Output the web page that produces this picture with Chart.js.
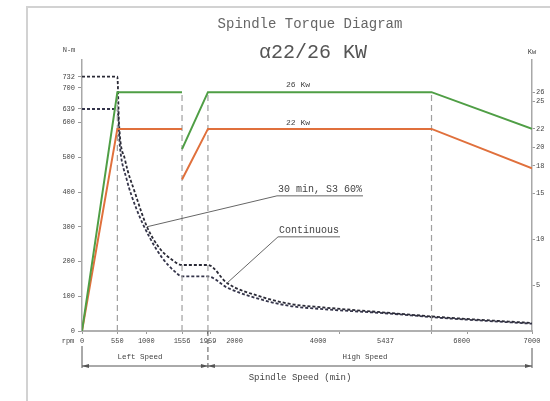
<!DOCTYPE html>
<html>
<head>
<meta charset="utf-8">
<script src="https://cdn.jsdelivr.net/npm/chart.js@4.4.0/dist/chart.umd.min.js"></script>
<style>
  html, body { margin: 0; padding: 0; background: #fff; }
  #wrap { width: 550px; height: 401px; position: relative; }
</style>
</head>
<body>
<div id="wrap"><canvas id="chart-torque"></canvas></div>
<script>
// tick labels
const rpmTicks = [0, 550, 1000, 1556, 1959, 2000, 4000, 5437, 6000, 7000];
const torqueTicks = [0, 100, 200, 300, 400, 500, 600, 639, 700, 732];
const kwTicks = [5, 10, 15, 18, 20, 22, 25, 26];

// power curves (kW, right axis)
const powerRpm = [0, 550, 1556, 1556, 1556, 1959, 5437, 7000];
const power26 = [0, 26, 26, null, 19.8, 26, 26, 22];
const power22 = [0, 22, 22, null, 16.5, 22, 22, 17.7];

// torque curves (N-m, left axis)
const s3Rpm = [0, 550, 575, 669, 824, 1011, 1200, 1400, 1556, 1959, 2256, 2800, 3236, 3749, 4791, 5569, 7000];
const s3Torque = [732, 732, 600, 493, 398, 300, 240, 205, 190, 190, 138, 98, 78, 68, 52, 40, 23];
const contRpm = [0, 550, 590, 690, 850, 1050, 1250, 1450, 1556, 1959, 2256, 2800, 3236, 3749, 4791, 5569, 7000];
const contTorque = [639, 639, 530, 440, 350, 270, 210, 170, 157, 157, 125, 90, 72, 63, 50, 38, 21];

// speed change markers
const markerRpm = [550, 1556, 1959, 5437];

const toPoints = (xs, ys) => xs.map((x, i) => ({ x: x, y: ys[i] }));

const mono = 'Liberation Mono';
const axisColor = '#9a9a9a';
const textColor = '#444';
// x labels that sit off their tick in the original drawing
const labelShift = { 2000: 24, 4000: -21, 5437: -46, 6000: -6 };

const markerSets = markerRpm.map((m) => ({
    data: [{ x: m, y: 0 }, { x: m, y: 26 }],
    yAxisID: 'y2',
    borderColor: '#a0a0a0',
    borderWidth: 1.2,
    borderDash: [6, 4],
    pointRadius: 0
}));

const decor = {
    id: 'decor',
    beforeDraw(chart) {
        const ctx = chart.ctx;
        ctx.save();
        ctx.strokeStyle = '#d2d2d2';
        ctx.lineWidth = 2;
        ctx.strokeRect(27, 7, 600, 500);
        ctx.restore();
    },
    afterDraw(chart) {
        const ctx = chart.ctx;
        const xs = chart.scales.x;
        const ys = chart.scales.y;
        const area = chart.chartArea;
        ctx.save();

        // titles
        ctx.fillStyle = '#666';
        ctx.textAlign = 'center';
        ctx.textBaseline = 'middle';
        ctx.font = `14px "${mono}"`;
        ctx.fillText('Spindle Torque Diagram', 310, 24);
        ctx.font = `20px "${mono}"`;
        ctx.fillStyle = '#555';
        ctx.fillText('\u03b122/26 KW', 313, 53);

        ctx.font = `7px "${mono}"`;
        ctx.fillStyle = textColor;
        ctx.fillText('N-m', 69, 50);
        ctx.fillText('Kw', 532, 52);
        ctx.fillText('rpm', 68, 341);
        Object.keys(labelShift).forEach((k) => {
            ctx.fillText(k, xs.getPixelForValue(Number(k)) + labelShift[k], 341);
        });

        // power labels
        ctx.font = `8px "${mono}"`;
        const kx = xs.getPixelForValue(3360);
        ctx.fillText('26 Kw', kx, chart.scales.y2.getPixelForValue(26) - 7);
        ctx.fillText('22 Kw', kx, chart.scales.y2.getPixelForValue(22) - 6);

        // curve notes with leader lines
        const notes = [
            { text: '30 min, S3 60%', from: [1011, 300], to: [3033, 389] },
            { text: 'Continuous', from: [2256, 138], to: [3049, 271] }
        ];
        ctx.font = `10px "${mono}"`;
        ctx.strokeStyle = '#666';
        ctx.lineWidth = 1;
        ctx.textAlign = 'left';
        notes.forEach((n) => {
            const x1 = xs.getPixelForValue(n.from[0]);
            const y1 = ys.getPixelForValue(n.from[1]);
            const x2 = xs.getPixelForValue(n.to[0]);
            const y2 = ys.getPixelForValue(n.to[1]);
            const w = ctx.measureText(n.text).width;
            ctx.beginPath();
            ctx.moveTo(x1, y1);
            ctx.lineTo(x2, y2);
            ctx.lineTo(x2 + w + 2, y2);
            ctx.stroke();
            ctx.fillText(n.text, x2 + 1, y2 - 6);
        });

        // speed range dimension line
        const lineY = 366;
        const xShift = xs.getPixelForValue(1959);
        ctx.strokeStyle = '#555';
        ctx.beginPath();
        ctx.moveTo(area.left, lineY);
        ctx.lineTo(area.right, lineY);
        ctx.moveTo(area.left, 346);
        ctx.lineTo(area.left, lineY + 2);
        ctx.moveTo(area.right, 348);
        ctx.lineTo(area.right, lineY + 2);
        ctx.stroke();
        ctx.setLineDash([5, 3]);
        ctx.beginPath();
        ctx.moveTo(xShift, area.bottom);
        ctx.lineTo(xShift, lineY + 4);
        ctx.stroke();
        ctx.setLineDash([]);
        ctx.fillStyle = '#555';
        [[area.left, 1], [xShift, -1], [xShift, 1], [area.right, -1]].forEach(([ax, dir]) => {
            ctx.beginPath();
            ctx.moveTo(ax, lineY);
            ctx.lineTo(ax + dir * 7, lineY - 2);
            ctx.lineTo(ax + dir * 7, lineY + 2);
            ctx.closePath();
            ctx.fill();
        });

        ctx.fillStyle = textColor;
        ctx.textAlign = 'center';
        ctx.font = `7.5px "${mono}"`;
        ctx.fillText('Left Speed', 140, 357);
        ctx.fillText('High Speed', 365, 357);
        ctx.font = `9px "${mono}"`;
        ctx.fillText('Spindle Speed (min)', 300, 378);
        ctx.restore();
    }
};

const config = {
    type: 'line',
    data: {
        datasets: [
            {
                data: toPoints(powerRpm, power26),
                yAxisID: 'y2',
                borderColor: '#4f9e45',
                borderWidth: 2,
                pointRadius: 0,
                spanGaps: false
            },
            {
                data: toPoints(powerRpm, power22),
                yAxisID: 'y2',
                borderColor: '#e0703c',
                borderWidth: 2,
                pointRadius: 0,
                spanGaps: false
            },
            ...markerSets,
            {
                data: toPoints(s3Rpm, s3Torque),
                yAxisID: 'y',
                borderColor: '#2a2a36',
                borderWidth: 1.8,
                borderDash: [3, 2],
                pointRadius: 0,
                cubicInterpolationMode: 'monotone'
            },
            {
                data: toPoints(contRpm, contTorque),
                yAxisID: 'y',
                borderColor: '#34344a',
                borderWidth: 1.8,
                borderDash: [3, 2],
                pointRadius: 0,
                cubicInterpolationMode: 'monotone'
            }
        ]
    },
    options: {
        responsive: true,
        maintainAspectRatio: false,
        animation: false,
        layout: { padding: { top: 60, left: 0, right: 0, bottom: 0 } },
        plugins: {
            legend: { display: false },
            tooltip: { enabled: false }
        },
        scales: {
            x: {
                type: 'linear',
                min: 0,
                max: 7000,
                afterBuildTicks: (s) => { s.ticks = rpmTicks.map((v) => ({ value: v })); },
                afterFit: (s) => { s.height = 70; },
                grid: { drawOnChartArea: false, tickLength: 3, color: axisColor },
                border: { color: '#b0b0b0', width: 2 },
                ticks: {
                    autoSkip: false,
                    maxRotation: 0,
                    padding: 3,
                    color: textColor,
                    font: { family: mono, size: 7 },
                    callback: (v) => (labelShift[v] !== undefined ? '' : String(v))
                }
            },
            y: {
                position: 'left',
                min: 0,
                max: 780,
                afterBuildTicks: (s) => { s.ticks = torqueTicks.map((v) => ({ value: v })); },
                afterFit: (s) => { s.width = 82; },
                grid: { drawOnChartArea: false, tickLength: 4, color: axisColor },
                border: { color: '#a8a8a8', width: 1.5 },
                ticks: {
                    autoSkip: false,
                    padding: 3,
                    color: textColor,
                    font: { family: mono, size: 7 }
                }
            },
            y2: {
                position: 'right',
                min: 0,
                max: 29.5,
                afterBuildTicks: (s) => { s.ticks = kwTicks.map((v) => ({ value: v })); },
                afterFit: (s) => { s.width = 18; },
                grid: { drawOnChartArea: false, tickLength: 3, color: axisColor },
                border: { color: '#a8a8a8', width: 1.5 },
                ticks: {
                    autoSkip: false,
                    padding: 1,
                    color: textColor,
                    font: { family: mono, size: 7 }
                }
            }
        }
    },
    plugins: [decor]
};

const chartDom = document.querySelector('#chart-torque');
const chartInstance = new Chart(chartDom, config);
</script>
</body>
</html>
